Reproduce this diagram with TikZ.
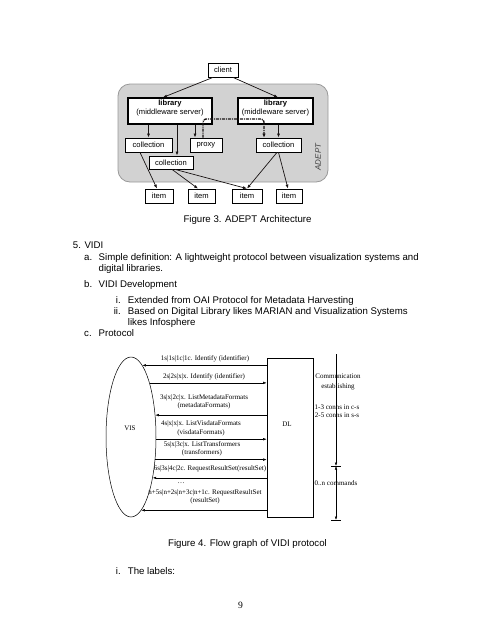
\documentclass[tikz,border=0pt]{standalone}
\usepackage{fontspec}
\setmainfont{Liberation Sans}
\newfontfamily\timesfont{Liberation Serif}
\usetikzlibrary{shapes.geometric,arrows.meta,positioning}
\definecolor{arrowink}{RGB}{25,20,20}

\begin{document}
\begin{tikzpicture}[x=1pt,y=-1pt,
    body/.style={inner sep=0pt,anchor=base west,font=\fontsize{9.65}{11.5}\selectfont},
    figtxt/.style={font=\fontsize{7.6}{8.5}\selectfont,inner sep=0pt},
    fig3box/.style={figtxt,draw,fill=white,line width=0.8pt,minimum height=14pt},
    libbox/.style={draw,fill=white,line width=1.2pt,minimum width=#1,minimum height=26pt},
    fig3arrow/.style={-{Latex[length=4pt,width=3pt]},line width=0.7pt,draw=arrowink},
    proxylink/.style={-{Latex[length=4pt,width=3.5pt]},line width=1.4pt,draw=arrowink,dash pattern=on 3pt off 1pt on 1pt off 1pt},
    msg/.style={-{Latex[length=3.5pt,width=2.5pt]},line width=0.5pt,draw=black},
    tms/.style={font=\timesfont\fontsize{7}{8.5}\selectfont,inner sep=0pt,align=center}]

  \useasboundingbox[fill=white] (0,0) rectangle (495,640);

  % Figure 3
  \node[draw=gray!80,fill=gray!35,rounded corners=12pt,line width=0.8pt,
        minimum width=210pt,minimum height=98pt] (adept) at (223,133) {};
  \node[fig3box,minimum width=30pt] (client) at (223,70) {client};
  \node[libbox=84pt] (libL) at (170,111) {};
  \node[libbox=75pt] (libR) at (275.5,111) {};
  \node[figtxt,align=center] (libLtxt) at ([yshift=3pt]libL.center) {\textbf{library}\\(middleware server)};
  \node[figtxt,align=center] (libRtxt) at ([yshift=3pt]libR.center) {\textbf{library}\\(middleware server)};
  \node[fig3box,minimum width=47pt] (colL) at (148.5,145) {collection};
  \node[fig3box,minimum width=32pt] (proxy) at (206,145) {proxy};
  \node[fig3box,minimum width=45pt] (colR) at (278.5,145) {collection};
  \node[fig3box,minimum width=44pt,minimum height=13pt] (colM) at (171,162.5) {collection};
  \foreach \n/\x/\w in {1/159/28,2/201.5/27,3/247/30,4/289/26}
    \node[fig3box,minimum width=\w pt] (item\n) at (\x,196) {item};

  \draw[fig3arrow] ([xshift=-10pt]client.south) -- ([xshift=-7pt]libL.north);
  \draw[fig3arrow] ([xshift=10pt]client.south) -- ([xshift=2.5pt]libR.north);
  \draw[fig3arrow] (colL.north |- libL.south) -- (colL.north);
  \draw[fig3arrow] ([xshift=6pt]colM.north |- libL.south) -- ([xshift=6pt]colM.north);
  \draw[fig3arrow] ([xshift=-11pt]proxy.north |- libL.south) -- ([xshift=-11pt]proxy.north);
  \draw[fig3arrow] (colR.north |- libR.south) -- (colR.north);
  \coordinate (dbend) at (264,119);
  \draw[proxylink,rounded corners=3pt] ([xshift=-3pt]proxy.north) |- (dbend) -- (dbend |- colR.north);
  \draw[fig3arrow] ([xshift=-8.5pt]colL.south) -- ([xshift=-2pt]item1.north);
  \draw[fig3arrow] ([xshift=1pt]colM.south) -- ([xshift=-3.5pt]item2.north);
  \draw[fig3arrow] ([xshift=4pt]colM.south) -- (item3.north);
  \draw[fig3arrow] ([xshift=-1.5pt]colR.south) -- (item3.north);
  \draw[fig3arrow] (colR.south) -- ([xshift=-1pt]item4.north);
  \node[rotate=90,inner sep=0pt,font=\fontsize{8}{9}\selectfont\itshape,text=black!75] (adeptlbl) at (318,157) {ADEPT};

  \node[body,anchor=base] (caption3) at (247.5,222.5) {Figure 3. ADEPT Architecture};

  % text
  \node[body] (sec5) at (72.7,248.5) {5. VIDI};
  \node[body] (ia) at (84,260) {a.};
  \node[body] (ta1) at (98.5,260) {Simple definition: A lightweight protocol between visualization systems and};
  \node[body] (ta2) at (98.5,271.5) {digital libraries.};
  \node[body] (ib) at (84,287.5) {b.};
  \node[body] (tb) at (98.5,287.5) {VIDI Development};
  \node[body,anchor=base east] (ibi) at (121,303) {i.};
  \node[body] (tbi) at (127.7,303) {Extended from OAI Protocol for Metadata Harvesting};
  \node[body,anchor=base east] (ibii) at (121,314.5) {ii.};
  \node[body] (tbii1) at (127.7,314.5) {Based on Digital Library likes MARIAN and Visualization Systems};
  \node[body] (tbii2) at (127.7,325.5) {likes Infosphere};
  \node[body] (ic) at (84,336.5) {c.};
  \node[body] (tc) at (98.5,336.5) {Protocol};

  % Figure 4
  \node[draw,ellipse,line width=0.5pt,minimum width=50pt,minimum height=160pt,inner sep=0pt] (vis) at (131,437) {};
  \node[tms] (vislbl) at (130,428) {VIS};
  \node[draw,line width=0.6pt,minimum width=46pt,minimum height=159pt] (dl) at (290,437.5) {};
  \node[tms] (dllbl) at (287,424) {DL};

  \foreach \a in {81.4,42.5,298.4,278.6}
    \draw[msg] (dl.west |- vis.\a) -- (vis.\a);
  \foreach \a in {71.2,355.4,317.5}
    \draw[msg] (vis.\a) -- (dl.west |- vis.\a);

  \node[tms] (m1) at (205,359) {1s|1s|1c|1c. Identify (identifier)};
  \node[tms] (m2) at (204,377) {2s|2s|x|x. Identify (identifier)};
  \node[tms] (m3) at (204,402) {3s|x|2c|x. ListMetadataFormats\\(metadataFormats)};
  \node[tms] (m4) at (201,428.5) {4s|x|x|x. ListVisdataFormats\\(visdataFormats)};
  \node[tms] (m5) at (202,449) {5s|x|3c|x. ListTransformers\\(transformers)};
  \node[tms] (m6) at (210,469) {6s|3s|4c|2c. RequestResultSet(resultSet)};
  \node[tms] (m7dots) at (181,483) {\dots};
  \node[tms] (m7) at (205,497) {n+5s|n+2s|n+3c|n+1c. RequestResultSet\\(resultSet)};

  \coordinate (dimtop) at (336,354);
  \coordinate (dimmid) at (336,466);
  \coordinate (dimbot) at (336,520);
  \draw[msg] (dimtop) -- (dimmid);
  \draw[{Latex[length=3.5pt,width=2.5pt]}-{Latex[length=3.5pt,width=2.5pt]},line width=0.5pt] (dimmid) -- (dimbot);
  \draw[line width=0.5pt] ([xshift=-5pt]dimmid) -- ([xshift=5pt]dimmid);
  \draw[line width=0.5pt] ([xshift=-5pt]dimbot) -- ([xshift=5pt]dimbot);
  \node[tms,font=\timesfont\fontsize{7}{10}\selectfont] (comm) at (338,382) {Communication\\establishing};
  \node[tms] (conns) at (337,411) {1-3 conns in c-s\\2-5 conns in s-s};
  \node[tms] (ncmd) at (336,483) {0..n commands};

  \node[body,anchor=base] (caption4) at (247.5,546) {Figure 4. Flow graph of VIDI protocol};
  \node[body,anchor=base east] (ici) at (121,574.5) {i.};
  \node[body] (tci) at (127.7,574.5) {The labels:};
  \node[body,anchor=base,font=\timesfont\fontsize{9.65}{11}\selectfont] (pagenum) at (240.5,608.5) {9};
\end{tikzpicture}
\end{document}
